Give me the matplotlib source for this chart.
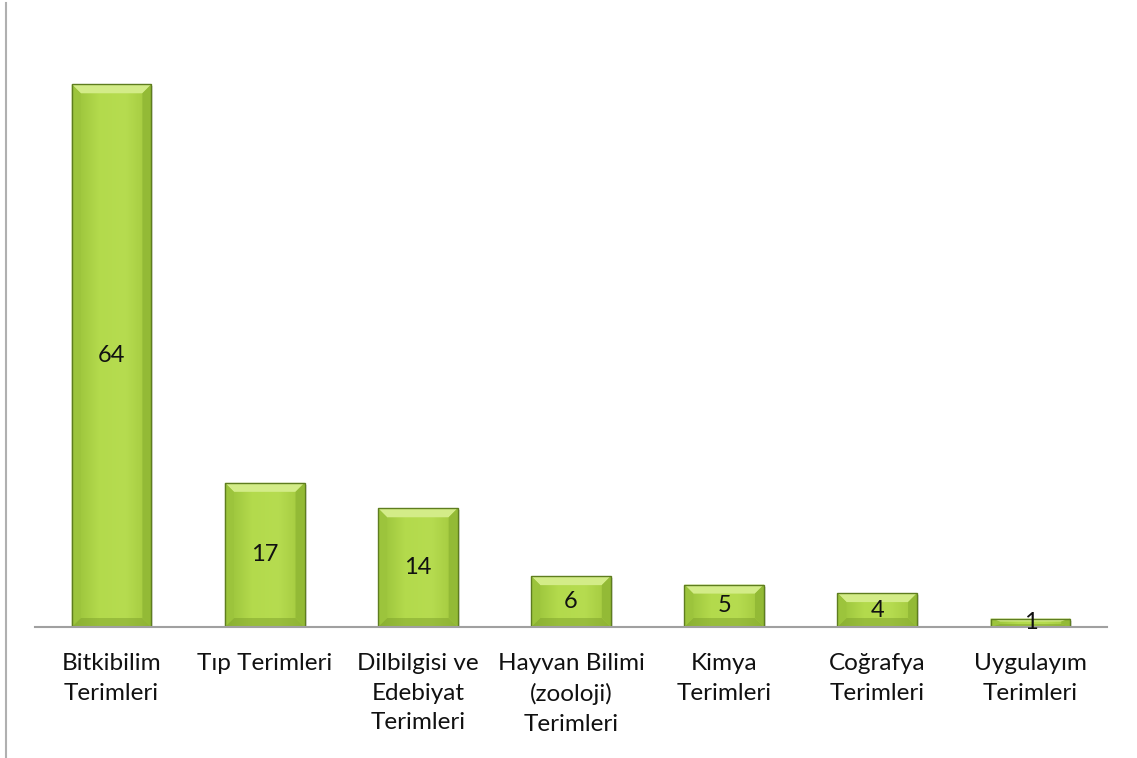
import matplotlib
matplotlib.use("Agg")
import matplotlib.pyplot as plt
import numpy as np
from matplotlib.patches import Polygon, Rectangle
from matplotlib.lines import Line2D
from matplotlib.colors import LinearSegmentedColormap

categories = ["Bitkibilim\nTerimleri", "Tıp Terimleri", "Dilbilgisi ve\nEdebiyat\nTerimleri",
              "Hayvan Bilimi\n(zooloji)\nTerimleri", "Kimya\nTerimleri", "Coğrafya\nTerimleri",
              "Uygulayım\nTerimleri"]
values = [64, 17, 14, 6, 5, 4, 1]

plt.rcParams['font.family'] = ['Lato', 'DejaVu Sans']

W, H, DPI = 1137, 758, 100
fig = plt.figure(figsize=(W / DPI, H / DPI), dpi=DPI)
ax = fig.add_axes([35 / W, 1 - 627 / H, (1107 - 35) / W, (627 - 33.4) / H])
ax.set_xlim(-0.5, len(values) - 0.5)
ax.set_ylim(0, 70)
ax.axis("off")

# data units per pixel, for the bevel widths
px_x = len(values) / (1107 - 35)
px_y = 70 / (627 - 33.4)

bw = 0.52
grad = np.linspace(0, 1, 256).reshape(1, -1)
cmap = LinearSegmentedColormap.from_list("g", ["#96bf38", "#b3da4c", "#b6dc50", "#a0c63c"])

for i, v in enumerate(values):
    x0, x1 = i - bw / 2, i + bw / 2
    # soft shadow
    ax.add_patch(Rectangle((x0 + 2 * px_x, -2 * px_y), bw, v, facecolor="#000000", alpha=0.12,
                           edgecolor="none", zorder=1))
    im = ax.imshow(grad, extent=(x0, x1, 0, v), aspect="auto", cmap=cmap, zorder=2)
    im.set_clip_path(Rectangle((x0, 0), bw, v, transform=ax.transData))
    b = min(9 * px_y, v * 0.35)
    bx = 9 * px_x
    # top bevel
    ax.add_patch(Polygon([(x0, v), (x1, v), (x1 - bx, v - b), (x0 + bx, v - b)],
                         facecolor="#d3ec88", edgecolor="none", zorder=3))
    # bottom bevel
    ax.add_patch(Polygon([(x0, 0), (x1, 0), (x1 - bx, b), (x0 + bx, b)],
                         facecolor="#7ea12c", edgecolor="none", alpha=0.5, zorder=3))
    # side bevels
    ax.add_patch(Polygon([(x0, 0), (x0, v), (x0 + bx, v - b), (x0 + bx, b)],
                         facecolor="#9cc43c", edgecolor="none", zorder=3))
    ax.add_patch(Polygon([(x1, 0), (x1, v), (x1 - bx, v - b), (x1 - bx, b)],
                         facecolor="#93ba36", edgecolor="none", zorder=3))
    ax.add_patch(Rectangle((x0, 0), bw, v, facecolor="none", edgecolor="#5e7d1f",
                           linewidth=1.0, zorder=4))
    ax.text(i, v / 2, str(v), ha="center", va="center", fontsize=17, color="#111111", zorder=6)
    ax.text(i, -3.1, categories[i], ha="center", va="top", fontsize=17.5, color="#111111",
            linespacing=1.5)

ax.plot([-0.5, len(values) - 0.5], [0, 0], color="#a0a0a0", linewidth=1.5, zorder=5,
        clip_on=False)

fig.add_artist(Line2D([6 / W, 6 / W], [0, 1 - 3 / H], color="#b0b0b0", linewidth=1.5))

fig.savefig("out.png", dpi=DPI, facecolor="white")
